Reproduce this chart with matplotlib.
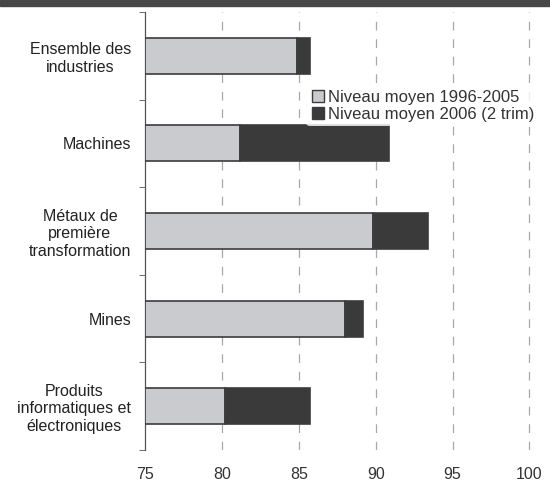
import matplotlib
matplotlib.use("Agg")
import matplotlib.pyplot as plt
from matplotlib.patches import Rectangle
from matplotlib.lines import Line2D

plt.rcParams['font.family'] = ['Liberation Sans', 'DejaVu Sans']

categories = ["Ensemble des\nindustries", "Machines", "Métaux de\npremière\ntransformation",
              "Mines", "Produits\ninformatiques et\nélectroniques"]
moyen_1996_2005 = [84.9, 81.2, 89.85, 88.0, 80.2]
moyen_2006 = [85.7, 90.9, 93.4, 89.2, 85.7]
xticks = [75, 80, 85, 90, 95, 100]
series_labels = ["Niveau moyen 1996-2005", "Niveau moyen 2006 (2 trim)"]

base = 75
light = "#c9cbce"
dark = "#3a3a3a"
edge = "#3c3c3c"

fig = plt.figure(figsize=(5.5, 4.84), dpi=100)
ax = fig.add_axes([145/550, 1-450/484, (534-145)/550, (450-12)/484])

ypos = list(range(len(categories)))
g_w = [v - base for v in moyen_1996_2005]
d_w = [b - a for a, b in zip(moyen_1996_2005, moyen_2006)]
ax.barh(ypos, g_w, left=base, height=0.41, color=light, edgecolor=edge, linewidth=1.2, zorder=3)
ax.barh(ypos, d_w, left=moyen_1996_2005, height=0.41, color=dark, edgecolor=edge, linewidth=1.2, zorder=3)

ax.set_xlim(75, 100.3)
ax.set_ylim(len(categories) - 0.5, -0.5)
ax.set_xticks(xticks)
ax.set_xticklabels([str(t) for t in xticks], fontsize=11.5, color="#333333")
ax.tick_params(axis='x', length=0, pad=12)
for t in xticks[1:]:
    ax.axvline(t, color="#a8a8a8", linestyle=(0, (7, 7)), linewidth=0.9, zorder=1)

ax.set_yticks(ypos)
ax.set_yticklabels(categories, fontsize=11.5, color="#222222")
for lab in ax.get_yticklabels():
    lab.set_ha('right')
    lab.set_multialignment('center')
ax.tick_params(axis='y', length=0, pad=10)
ax.set_yticks([i - 0.5 for i in range(len(categories) + 1)], minor=True)
ax.tick_params(axis='y', which='minor', length=4, color="#555555", direction='out')

for s in ['top', 'right', 'bottom']:
    ax.spines[s].set_visible(False)
ax.spines['left'].set_color("#555555")
ax.spines['left'].set_linewidth(0.9)

handles = [Line2D([], [], marker='s', linestyle='none', markersize=8.5,
                  markerfacecolor=light, markeredgecolor=edge),
           Line2D([], [], marker='s', linestyle='none', markersize=8.5,
                  markerfacecolor=dark, markeredgecolor=edge)]
leg = ax.legend(handles, series_labels, loc='upper left', bbox_to_anchor=(0.415, 0.83),
                frameon=True, fontsize=12, handletextpad=0.1, handlelength=1.0,
                labelspacing=0.15, borderaxespad=0, borderpad=0.2, labelcolor="#333333")
leg.get_frame().set_facecolor('white')
leg.get_frame().set_edgecolor('none')
leg.set_zorder(5)

fig.add_artist(Rectangle((0, 1 - 6/484), 1, 6/484, transform=fig.transFigure,
                         color="#474747", zorder=10))

fig.savefig("out.png", dpi=100)
